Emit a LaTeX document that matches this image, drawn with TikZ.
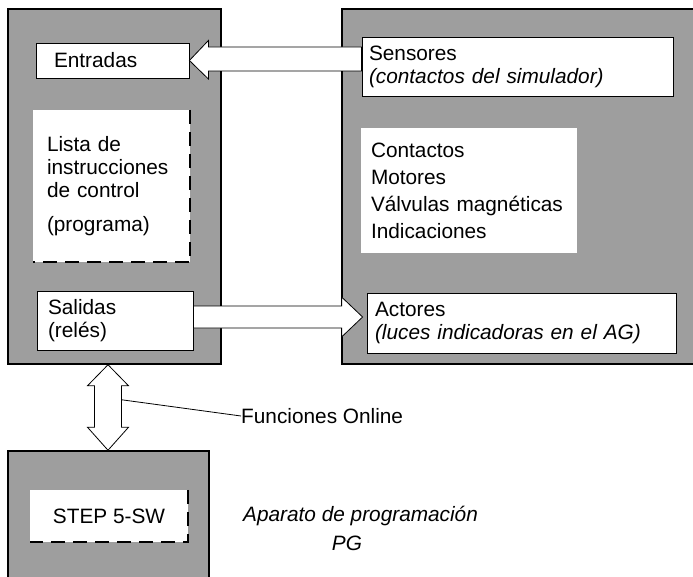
\documentclass[tikz,border=0pt]{standalone}
\usepackage{fontspec}
\setmainfont{Liberation Sans}
\usetikzlibrary{calc}
\definecolor{dither}{gray}{0.62}

\begin{document}
\begin{tikzpicture}[x=1pt,y=-1pt,
    every node/.style={font=\fontsize{20.8}{23}\selectfont},
    unit/.style={draw=black,line width=1.5pt,fill=dither,inner sep=0pt},
    field/.style={draw=black,line width=0.8pt,fill=white,align=left,inner ysep=0pt},
    memo/.style={fill=white,inner ysep=0pt,align=left},
    dashline/.style={line width=1.6pt,dash pattern=on 14pt off 8pt},
    fatarrow/.style={draw=black,line width=0.8pt,fill=white,line join=miter}]
  \useasboundingbox (0,0) rectangle (693,577);
  \node[unit,minimum width=213pt,minimum height=355pt] (ag) at (114.5,186.5) {};
  \node[unit,minimum width=360pt,minimum height=355pt] (plant) at (522,186.5) {};
  \node[unit,minimum width=201pt,minimum height=150pt] (pg) at (108.5,526) {};

  \node[field,text width=117pt,inner xsep=18pt,minimum height=35pt] (entradas) at (112.5,60.5) {Entradas};
  \node[field,text width=297pt,inner xsep=7pt,minimum height=59pt] (sensores) at (517.5,66.5)
    {Sensores\\\textit{(contactos del simulador)}};
  \node[memo,text width=129pt,inner xsep=14pt,minimum height=152pt] (lista) at (111.5,186)
    {Lista de\\instrucciones\\de control\\[11pt](programa)};
  \node[memo,text width=196pt,inner xsep=10pt,minimum height=125pt] (senales) at (469,190.5)
    {Contactos\\[4pt]Motores\\[4pt]Válvulas magnéticas\\[4pt]Indicaciones};
  \node[field,text width=134pt,inner xsep=11pt,minimum height=59pt] (salidas) at (115,320.5)
    {Salidas\\(relés)};
  \node[field,text width=293pt,inner xsep=8pt,minimum height=60pt] (actores) at (521.5,323)
    {Actores\\\textit{(luces indicadoras en el AG)}};
  \node[memo,align=center,minimum width=158pt,minimum height=52pt,inner sep=0pt] (step) at (109,516) {STEP 5-SW};
  \draw[dashline] (lista.north east) -- (lista.south east) -- (lista.south west);
  \draw[dashline] (step.north east) -- (step.south east) -- (step.south west);

  \node[anchor=west,inner sep=0pt] (online) at (241,416) {Funciones Online};
  \node[anchor=west,inner sep=0pt] (aparato) at (243,516) {\textit{Aparato de programación}};
  \node[inner sep=0pt] (pgname) at (347,543) {\textit{PG}};

  \draw[fatarrow] (entradas.east) -- ++(19,-20) -- ++(0,6.5)
    -- ($(sensores.west |- entradas.east)+(0,-13.5)$) -- ++(0,24)
    -- ($(entradas.east)+(19,10.5)$) -- ++(0,8) -- cycle;
  \coordinate (outtip) at ($(actores.west)+(-4,-6)$);
  \draw[fatarrow] (outtip) -- ++(-21,-20) -- ++(0,9)
    -- ($(salidas.east |- outtip)+(0,-11)$) -- ++(0,22)
    -- ($(outtip)+(-21,11)$) -- ++(0,9) -- cycle;
  \coordinate (linktop) at ($(ag.south)+(-6.5,0)$);
  \coordinate (linkbot) at (linktop |- pg.north);
  \draw[fatarrow] (linktop) -- ++(20.5,21) -- ++(-7,0) -- ($(linkbot)+(13.5,-23)$) -- ++(7,0)
    -- (linkbot) -- ++(-20.5,-23) -- ++(7,0) -- ($(linktop)+(-13.5,21)$) -- ++(-7,0) -- cycle;
  \draw[line width=0.8pt] ($(linktop)+(13.5,35)$) -- (online.west);
\end{tikzpicture}
\end{document}
